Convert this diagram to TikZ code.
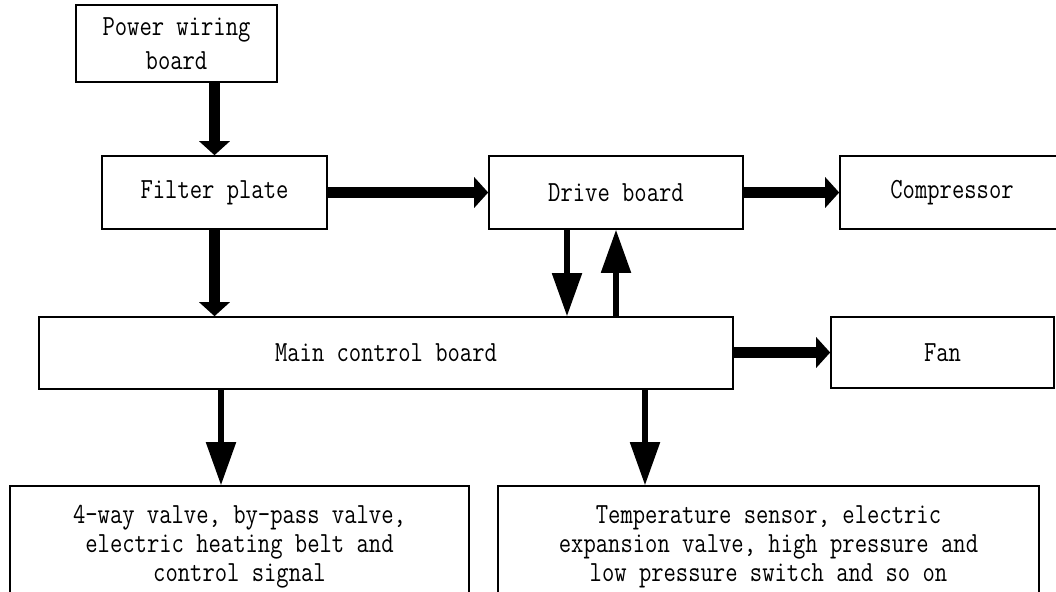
\documentclass[tikz,border=0pt]{standalone}
\usepackage{fontspec}
\setmonofont[FakeStretch=0.82]{Latin Modern Mono}
\usepackage{tikz}
\usetikzlibrary{arrows.meta,positioning}

\begin{document}
\begin{tikzpicture}[
  x=0.5pt, y=-0.5pt,
  unitbox/.style={draw, line width=0.8pt, inner sep=2pt, align=center,
                  font=\ttfamily\fontsize{14.6}{17}\selectfont},
  listbox/.style={unitbox, font=\ttfamily\fontsize{14.6}{14.6}\selectfont},
  fatarr/.style={line width=5.5pt, -{Triangle[width=15pt, length=7pt]}},
  thinarr/.style={line width=2.6pt, -{Triangle[width=14.5pt, length=21.5pt]}},
]
\useasboundingbox (0,0) rectangle (1056,591);
\clip (0,0) rectangle (1056,591);

% Top row
\node[unitbox, minimum width=100.5pt, minimum height=38.5pt] (PWR) at (176.5, 43.5) {Power wiring\\board};

% Second row
\node[unitbox, minimum width=112.5pt, minimum height=36.5pt] (FLT) at (214.5, 192.5) {Filter plate};
\node[unitbox, minimum width=127pt,   minimum height=36.5pt] (DRV) at (616, 192.5) {Drive board};
\node[unitbox, minimum width=112pt,   minimum height=36.5pt] (CMP) at (952, 192.5) {Compressor};

% Main control row
\node[unitbox, minimum width=347pt,   minimum height=36pt] (MCB) at (386, 353) {Main control board};
\node[unitbox, minimum width=111.5pt, minimum height=35.5pt] (FAN) at (942.5, 352.5) {Fan};

% Loads
\node[listbox, minimum width=229.5pt, minimum height=61pt] (VLV) at (239.5, 547)
  {4-way valve, by-pass valve,\\electric heating belt and\\control signal};
\node[listbox, minimum width=270.5pt, minimum height=61pt] (SNS) at (768.5, 547)
  {Temperature sensor, electric\\expansion valve, high pressure and\\low pressure switch and so on};

% --- arrows ---
\draw[fatarr] (FLT.north |- PWR.south) -- (FLT.north);
\draw[fatarr] (FLT.east) -- (DRV.west);
\draw[fatarr] (DRV.east) -- (CMP.west);
\draw[fatarr] (FLT.south) -- (FLT.south |- MCB.north);
\draw[fatarr] (MCB.east |- FAN.west) -- (FAN.west);
% drive board <-> main control board
\draw[thinarr] ([xshift=-24.5pt]DRV.south) -- ([xshift=-24.5pt]DRV.south |- MCB.north);
\draw[thinarr] (DRV.south |- MCB.north) -- (DRV.south);
% main control board to loads
\draw[thinarr] ([xshift=-9.25pt]VLV.north |- MCB.south) -- ([xshift=-9.25pt]VLV.north);
\draw[thinarr] ([xshift=-61.75pt]SNS.north |- MCB.south) -- ([xshift=-61.75pt]SNS.north);

\end{tikzpicture}
\end{document}
